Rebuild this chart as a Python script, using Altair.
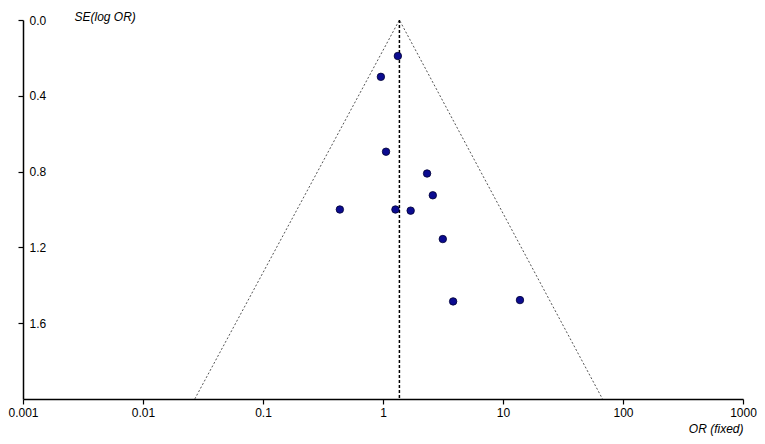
import altair as alt
import pandas as pd

# Study estimates
odds_ratio = [1.33, 0.96, 1.06, 2.33, 2.60, 0.437, 1.27, 1.70, 3.15, 3.84, 13.85]
se_log_or = [0.19, 0.30, 0.695, 0.81, 0.925, 1.00, 1.00, 1.006, 1.156, 1.485, 1.478]

# Pooled (fixed) estimate and funnel outline
pooled_or = [1.37]
funnel_or = [0.027, 1.37, 67.5]
funnel_se = [2.0, 0.0, 2.0]
funnel_order = [0, 1, 2]

x_ticks = [0.001, 0.01, 0.1, 1, 10, 100, 1000]
y_ticks = [0.0, 0.4, 0.8, 1.2, 1.6]

pts = pd.DataFrame({"or": odds_ratio, "se": se_log_or})
fun = pd.DataFrame({"or": funnel_or, "se": funnel_se, "o": funnel_order})
pool = pd.DataFrame({"or": pooled_or, "se0": [0.0], "se1": [2.0]})

FONT = "Liberation Sans"

xscale = alt.Scale(type="log", domain=[0.001, 1000], nice=False)
yscale = alt.Scale(domain=[0, 2.0], reverse=True, nice=False, zero=False)

xaxis = alt.Axis(
    values=x_ticks, format="~g", grid=False, domain=True, domainColor="#000",
    domainWidth=1.5, tickWidth=1.2,
    tickColor="#000", tickSize=5, labelColor="#000", labelFontSize=12,
    labelFont=FONT, labelPadding=3, title="OR (fixed)", titleFont=FONT,
    titleFontStyle="italic", titleFontWeight="normal", titleFontSize=12,
    titleColor="#000", titleAlign="right", titleAnchor="end", titleX=720,
    titleY=33, titleBaseline="alphabetic", labelFlush=False,
)
yaxis = alt.Axis(
    values=y_ticks, format=".1f", grid=False, domain=True, domainColor="#000",
    domainWidth=1.5, tickWidth=1.2,
    tickColor="#000", tickSize=5, labelColor="#000", labelFontSize=12,
    labelFont=FONT, labelAlign="left", labelPadding=-11, labelBaseline="middle",
    title="SE(log OR)", titleFont=FONT, titleFontStyle="italic",
    titleFontWeight="normal", titleFontSize=12, titleColor="#000",
    titleAngle=0, titleAlign="left", titleX=51, titleY=-4,
    titleBaseline="middle", labelFlush=False,
)

funnel = alt.Chart(fun).mark_line(
    color="#555555", strokeDash=[2, 2], strokeWidth=1
).encode(
    x=alt.X("or:Q", scale=xscale, axis=xaxis),
    y=alt.Y("se:Q", scale=yscale, axis=yaxis),
    order="o:Q",
)

pooled = alt.Chart(pool).mark_rule(
    color="#000000", strokeDash=[3, 2], strokeWidth=1.5
).encode(
    x=alt.X("or:Q", scale=xscale),
    y=alt.Y("se0:Q", scale=yscale),
    y2="se1:Q",
)

points = alt.Chart(pts).mark_point(
    shape="circle", filled=True, size=56, fill="#0b0b90", stroke="#000033",
    strokeWidth=0.8, opacity=1,
).encode(
    x=alt.X("or:Q", scale=xscale),
    y=alt.Y("se:Q", scale=yscale),
)

chart = alt.layer(funnel, pooled, points).properties(
    width=720, height=379,
    autosize=alt.AutoSizeParams(type="none"),
    padding={"left": 15, "top": 12, "right": 14, "bottom": 37},
    background="white",
).configure_view(stroke=None)

chart.save("out.html", embed_options={"renderer": "svg", "actions": False})
